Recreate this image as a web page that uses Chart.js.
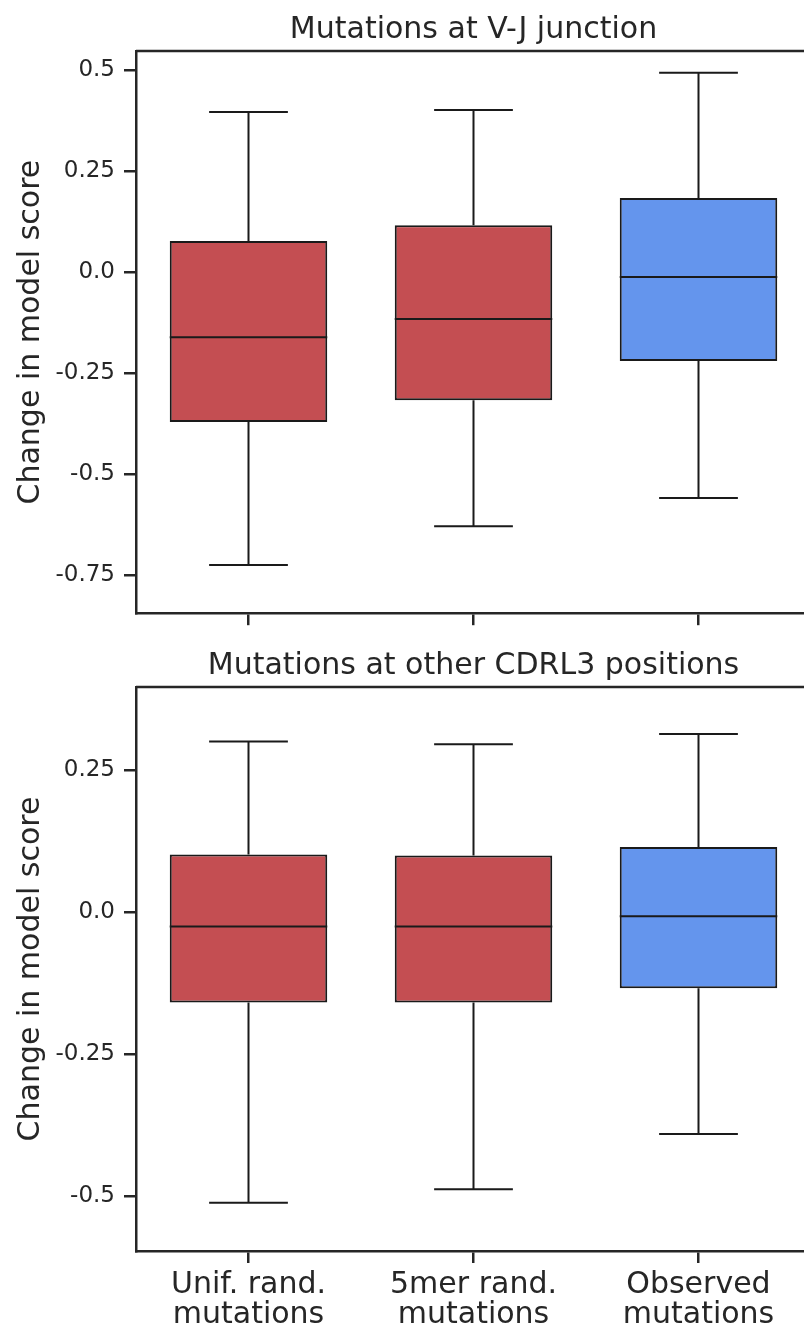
<!DOCTYPE html>
<html>
<head>
<meta charset="utf-8">
<script src="https://cdn.jsdelivr.net/npm/chart.js@4.4.1/dist/chart.umd.min.js"></script>
<style>
  html, body { margin: 0; padding: 0; background: #fff; width: 804px; height: 1329px; overflow: hidden; }
  .panel { position: absolute; left: 0; }
</style>
</head>
<body>
<div class="panel" style="top:0"><canvas id="top-chart" width="811" height="636"></canvas></div>
<div class="panel" style="top:636px"><canvas id="bottom-chart" width="811" height="693"></canvas></div>
<script>
// categories
const categories = [['Unif. rand.', 'mutations'], ['5mer rand.', 'mutations'], ['Observed', 'mutations']];
const boxColors = ['#C44E52', '#C44E52', '#6495ED'];

// top panel: mutations at V-J junction
const vjLow = [-0.725, -0.629, -0.559];
const vjQ1 = [-0.371, -0.317, -0.220];
const vjMedian = [-0.161, -0.116, -0.012];
const vjQ3 = [0.077, 0.116, 0.183];
const vjHigh = [0.396, 0.401, 0.493];
const vjTicks = [-0.75, -0.5, -0.25, 0, 0.25, 0.5];
const vjTickLabels = ['-0.75', '-0.5', '-0.25', '0.0', '0.25', '0.5'];

// bottom panel: other CDRL3 positions
const cdrLow = [-0.512, -0.488, -0.391];
const cdrQ1 = [-0.159, -0.159, -0.134];
const cdrMedian = [-0.025, -0.025, -0.007];
const cdrQ3 = [0.102, 0.100, 0.115];
const cdrHigh = [0.301, 0.296, 0.314];
const cdrTicks = [-0.5, -0.25, 0, 0.25];
const cdrTickLabels = ['-0.5', '-0.25', '0.0', '0.25'];

const ink = '#262626';
const edge = '#1a1a1a';
const font = 'DejaVu Sans';

// whiskers, caps, medians and the top/right spines
const boxExtras = {
  id: 'boxExtras',
  afterDatasetsDraw(chart, args, opts) {
    const ctx = chart.ctx;
    const y = chart.scales.y;
    const meta = chart.getDatasetMeta(0);
    ctx.save();
    ctx.strokeStyle = edge;
    ctx.lineWidth = 2;
    meta.data.forEach((bar, i) => {
      const cx = bar.x;
      const half = bar.width / 2;
      const yLo = y.getPixelForValue(opts.low[i]);
      const yHi = y.getPixelForValue(opts.high[i]);
      const yQ1 = y.getPixelForValue(opts.q1[i]);
      const yQ3 = y.getPixelForValue(opts.q3[i]);
      const yMed = y.getPixelForValue(opts.median[i]);
      ctx.beginPath();
      ctx.moveTo(cx, yQ3); ctx.lineTo(cx, yHi);
      ctx.moveTo(cx - half / 2, yHi); ctx.lineTo(cx + half / 2, yHi);
      ctx.moveTo(cx, yQ1); ctx.lineTo(cx, yLo);
      ctx.moveTo(cx - half / 2, yLo); ctx.lineTo(cx + half / 2, yLo);
      ctx.moveTo(cx - half, yMed); ctx.lineTo(cx + half, yMed);
      ctx.stroke();
    });
    const a = chart.chartArea;
    ctx.strokeStyle = ink;
    ctx.lineWidth = 2.5;
    ctx.beginPath();
    ctx.moveTo(a.left, a.top); ctx.lineTo(a.right, a.top); ctx.lineTo(a.right, a.bottom);
    ctx.stroke();
    ctx.restore();
  }
};

function makeBoxChart(id, title, low, q1, median, q3, high, ticks, tickLabels, yMin, yMax, showLabels, xHeight) {
  return new Chart(document.getElementById(id), {
    type: 'bar',
    data: {
      labels: categories,
      datasets: [{
        data: q1.map((v, i) => [v, q3[i]]),
        backgroundColor: boxColors,
        borderColor: edge,
        borderWidth: 2,
        borderSkipped: false,
        barPercentage: 0.7,
        categoryPercentage: 1
      }]
    },
    options: {
      responsive: false,
      animation: false,
      devicePixelRatio: 1,
      layout: { padding: 0 },
      plugins: {
        legend: { display: false },
        tooltip: { enabled: false },
        title: {
          display: true,
          fullSize: false,
          text: title,
          color: ink,
          font: { family: font, size: 30, weight: 'normal', lineHeight: 1.2 },
          padding: { top: 12, bottom: 3 }
        },
        boxExtras: { low, q1, median, q3, high }
      },
      scales: {
        x: {
          offset: true,
          grid: { display: true, drawOnChartArea: false, drawTicks: true, tickLength: 12, tickColor: ink, lineWidth: 2.5, offset: false },
          border: { display: true, color: ink, width: 2.5 },
          ticks: {
            display: showLabels,
            color: ink,
            padding: 7,
            font: { family: font, size: 30, lineHeight: 1.0 }
          },
          afterFit: s => { s.height = xHeight; }
        },
        y: {
          min: yMin,
          max: yMax,
          afterBuildTicks: s => { s.ticks = ticks.map(v => ({ value: v })); },
          grid: { display: true, drawOnChartArea: false, drawTicks: true, tickLength: 12, tickColor: ink, lineWidth: 2.5 },
          border: { display: true, color: ink, width: 2.5 },
          ticks: {
            color: ink,
            padding: 9,
            font: { family: font, size: 23 },
            callback: (v, i) => tickLabels[i]
          },
          title: {
            display: true,
            text: 'Change in model score',
            color: ink,
            font: { family: font, size: 30, lineHeight: 1.0 },
            padding: { top: 16, bottom: 0 }
          },
          afterFit: s => { s.width = 136; }
        }
      }
    },
    plugins: [boxExtras]
  });
}

makeBoxChart('top-chart', 'Mutations at V-J junction', vjLow, vjQ1, vjMedian, vjQ3, vjHigh,
  vjTicks, vjTickLabels, -0.844, 0.547, false, 21);
makeBoxChart('bottom-chart', 'Mutations at other CDRL3 positions', cdrLow, cdrQ1, cdrMedian, cdrQ3, cdrHigh,
  cdrTicks, cdrTickLabels, -0.597, 0.397, true, 78);
</script>
</body>
</html>
